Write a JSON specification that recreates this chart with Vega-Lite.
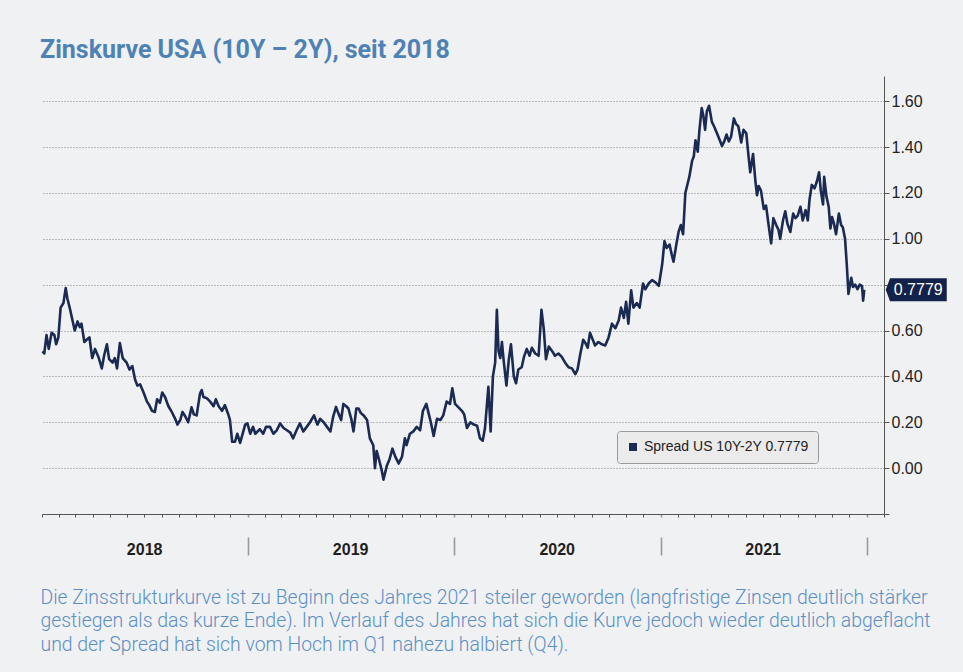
{
"$schema": "https://vega.github.io/schema/vega-lite/v6.json",
"width": 842,
"height": 438,
"autosize": {"type": "none"},
"padding": {"left": 42, "top": 76, "right": 79, "bottom": 158},
"background": "#f0f1f3",
"config": {"view": {"stroke": null}, "font": "Liberation Sans"},
"title": {"text": "Zinskurve USA (10Y – 2Y), seit 2018", "anchor": "start", "frame": "group", "font": "Roboto", "fontSize": 25, "fontWeight": "bold", "color": "#4e81b4", "baseline": "alphabetic", "offset": 19, "dx": -2, "dy": 26},
"datasets": {
"spread": [
{"date":"2018-01-02","value":0.51},{"date":"2018-01-05","value":0.50},{"date":"2018-01-07","value":0.54},{"date":"2018-01-09","value":0.58},{"date":"2018-01-13","value":0.52},{"date":"2018-01-18","value":0.59},{"date":"2018-01-23","value":0.58},{"date":"2018-01-26","value":0.54},{"date":"2018-01-30","value":0.57},{"date":"2018-02-03","value":0.70},{"date":"2018-02-08","value":0.72},{"date":"2018-02-12","value":0.785},{"date":"2018-02-15","value":0.74},{"date":"2018-02-20","value":0.69},{"date":"2018-02-24","value":0.645},{"date":"2018-02-28","value":0.60},{"date":"2018-03-05","value":0.64},{"date":"2018-03-09","value":0.615},{"date":"2018-03-12","value":0.63},{"date":"2018-03-17","value":0.55},{"date":"2018-03-21","value":0.56},{"date":"2018-03-26","value":0.57},{"date":"2018-03-31","value":0.48},{"date":"2018-04-05","value":0.52},{"date":"2018-04-11","value":0.485},{"date":"2018-04-17","value":0.435},{"date":"2018-04-21","value":0.49},{"date":"2018-04-26","value":0.54},{"date":"2018-04-30","value":0.475},{"date":"2018-05-06","value":0.46},{"date":"2018-05-10","value":0.48},{"date":"2018-05-14","value":0.435},{"date":"2018-05-19","value":0.545},{"date":"2018-05-24","value":0.48},{"date":"2018-05-31","value":0.46},{"date":"2018-06-05","value":0.43},{"date":"2018-06-10","value":0.445},{"date":"2018-06-15","value":0.385},{"date":"2018-06-19","value":0.36},{"date":"2018-06-24","value":0.365},{"date":"2018-06-30","value":0.33},{"date":"2018-07-06","value":0.29},{"date":"2018-07-10","value":0.275},{"date":"2018-07-15","value":0.25},{"date":"2018-07-20","value":0.245},{"date":"2018-07-24","value":0.30},{"date":"2018-07-29","value":0.285},{"date":"2018-08-02","value":0.33},{"date":"2018-08-07","value":0.31},{"date":"2018-08-13","value":0.27},{"date":"2018-08-19","value":0.245},{"date":"2018-08-25","value":0.215},{"date":"2018-08-29","value":0.19},{"date":"2018-09-03","value":0.21},{"date":"2018-09-07","value":0.245},{"date":"2018-09-12","value":0.225},{"date":"2018-09-17","value":0.20},{"date":"2018-09-23","value":0.265},{"date":"2018-09-27","value":0.235},{"date":"2018-10-02","value":0.23},{"date":"2018-10-08","value":0.325},{"date":"2018-10-11","value":0.34},{"date":"2018-10-14","value":0.31},{"date":"2018-10-20","value":0.305},{"date":"2018-10-26","value":0.29},{"date":"2018-11-01","value":0.27},{"date":"2018-11-05","value":0.30},{"date":"2018-11-10","value":0.27},{"date":"2018-11-16","value":0.25},{"date":"2018-11-21","value":0.275},{"date":"2018-11-27","value":0.235},{"date":"2018-11-30","value":0.21},{"date":"2018-12-04","value":0.115},{"date":"2018-12-09","value":0.115},{"date":"2018-12-13","value":0.15},{"date":"2018-12-18","value":0.11},{"date":"2018-12-22","value":0.145},{"date":"2018-12-27","value":0.19},{"date":"2018-12-31","value":0.195},
{"date":"2019-01-05","value":0.15},{"date":"2019-01-10","value":0.18},{"date":"2019-01-14","value":0.15},{"date":"2019-01-22","value":0.17},{"date":"2019-01-28","value":0.15},{"date":"2019-02-02","value":0.18},{"date":"2019-02-09","value":0.18},{"date":"2019-02-15","value":0.15},{"date":"2019-02-21","value":0.165},{"date":"2019-02-27","value":0.195},{"date":"2019-03-05","value":0.175},{"date":"2019-03-11","value":0.165},{"date":"2019-03-17","value":0.155},{"date":"2019-03-22","value":0.13},{"date":"2019-03-28","value":0.165},{"date":"2019-04-03","value":0.195},{"date":"2019-04-09","value":0.16},{"date":"2019-04-15","value":0.18},{"date":"2019-04-21","value":0.20},{"date":"2019-04-28","value":0.23},{"date":"2019-05-04","value":0.19},{"date":"2019-05-09","value":0.215},{"date":"2019-05-15","value":0.20},{"date":"2019-05-21","value":0.18},{"date":"2019-05-27","value":0.16},{"date":"2019-06-01","value":0.225},{"date":"2019-06-06","value":0.267},{"date":"2019-06-10","value":0.24},{"date":"2019-06-15","value":0.21},{"date":"2019-06-19","value":0.28},{"date":"2019-06-24","value":0.27},{"date":"2019-06-28","value":0.26},{"date":"2019-07-03","value":0.215},{"date":"2019-07-07","value":0.16},{"date":"2019-07-12","value":0.26},{"date":"2019-07-16","value":0.26},{"date":"2019-07-20","value":0.24},{"date":"2019-07-25","value":0.23},{"date":"2019-07-31","value":0.21},{"date":"2019-08-05","value":0.13},{"date":"2019-08-11","value":0.10},{"date":"2019-08-14","value":0.0},{"date":"2019-08-17","value":0.075},{"date":"2019-08-22","value":0.03},{"date":"2019-08-26","value":-0.01},{"date":"2019-08-29","value":-0.05},{"date":"2019-09-04","value":0.01},{"date":"2019-09-09","value":0.04},{"date":"2019-09-14","value":0.085},{"date":"2019-09-19","value":0.05},{"date":"2019-09-25","value":0.02},{"date":"2019-10-01","value":0.05},{"date":"2019-10-06","value":0.13},{"date":"2019-10-09","value":0.10},{"date":"2019-10-15","value":0.15},{"date":"2019-10-21","value":0.16},{"date":"2019-10-27","value":0.18},{"date":"2019-11-02","value":0.165},{"date":"2019-11-07","value":0.25},{"date":"2019-11-13","value":0.28},{"date":"2019-11-17","value":0.24},{"date":"2019-11-21","value":0.20},{"date":"2019-11-26","value":0.14},{"date":"2019-12-02","value":0.215},{"date":"2019-12-08","value":0.21},{"date":"2019-12-13","value":0.23},{"date":"2019-12-19","value":0.29},{"date":"2019-12-25","value":0.28},{"date":"2019-12-29","value":0.348},
{"date":"2020-01-03","value":0.28},{"date":"2020-01-09","value":0.265},{"date":"2020-01-15","value":0.25},{"date":"2020-01-19","value":0.235},{"date":"2020-01-24","value":0.175},{"date":"2020-01-30","value":0.20},{"date":"2020-02-05","value":0.19},{"date":"2020-02-11","value":0.185},{"date":"2020-02-16","value":0.13},{"date":"2020-02-21","value":0.12},{"date":"2020-02-25","value":0.175},{"date":"2020-03-02","value":0.355},{"date":"2020-03-06","value":0.16},{"date":"2020-03-10","value":0.40},{"date":"2020-03-14","value":0.46},{"date":"2020-03-17","value":0.69},{"date":"2020-03-20","value":0.51},{"date":"2020-03-23","value":0.48},{"date":"2020-03-26","value":0.55},{"date":"2020-03-29","value":0.47},{"date":"2020-04-03","value":0.36},{"date":"2020-04-07","value":0.47},{"date":"2020-04-11","value":0.54},{"date":"2020-04-16","value":0.40},{"date":"2020-04-20","value":0.37},{"date":"2020-04-24","value":0.43},{"date":"2020-04-30","value":0.44},{"date":"2020-05-04","value":0.485},{"date":"2020-05-09","value":0.52},{"date":"2020-05-14","value":0.49},{"date":"2020-05-18","value":0.525},{"date":"2020-05-24","value":0.50},{"date":"2020-05-30","value":0.49},{"date":"2020-06-04","value":0.69},{"date":"2020-06-08","value":0.61},{"date":"2020-06-12","value":0.475},{"date":"2020-06-17","value":0.53},{"date":"2020-06-23","value":0.51},{"date":"2020-06-28","value":0.49},{"date":"2020-07-04","value":0.50},{"date":"2020-07-10","value":0.485},{"date":"2020-07-16","value":0.46},{"date":"2020-07-22","value":0.44},{"date":"2020-07-28","value":0.435},{"date":"2020-08-03","value":0.41},{"date":"2020-08-07","value":0.43},{"date":"2020-08-12","value":0.50},{"date":"2020-08-17","value":0.56},{"date":"2020-08-21","value":0.545},{"date":"2020-08-25","value":0.525},{"date":"2020-08-29","value":0.59},{"date":"2020-09-03","value":0.56},{"date":"2020-09-07","value":0.535},{"date":"2020-09-13","value":0.55},{"date":"2020-09-19","value":0.54},{"date":"2020-09-25","value":0.535},{"date":"2020-10-01","value":0.57},{"date":"2020-10-07","value":0.63},{"date":"2020-10-13","value":0.61},{"date":"2020-10-19","value":0.645},{"date":"2020-10-23","value":0.70},{"date":"2020-10-28","value":0.655},{"date":"2020-11-01","value":0.725},{"date":"2020-11-05","value":0.63},{"date":"2020-11-10","value":0.775},{"date":"2020-11-14","value":0.70},{"date":"2020-11-20","value":0.72},{"date":"2020-11-25","value":0.70},{"date":"2020-12-01","value":0.805},{"date":"2020-12-05","value":0.78},{"date":"2020-12-11","value":0.805},{"date":"2020-12-17","value":0.82},{"date":"2020-12-23","value":0.81},{"date":"2020-12-29","value":0.795},
{"date":"2021-01-04","value":0.89},{"date":"2021-01-08","value":0.99},{"date":"2021-01-12","value":0.96},{"date":"2021-01-17","value":0.975},{"date":"2021-01-21","value":0.93},{"date":"2021-01-24","value":0.90},{"date":"2021-01-29","value":0.975},{"date":"2021-02-02","value":1.03},{"date":"2021-02-06","value":1.06},{"date":"2021-02-10","value":1.02},{"date":"2021-02-14","value":1.20},{"date":"2021-02-18","value":1.24},{"date":"2021-02-21","value":1.27},{"date":"2021-02-26","value":1.34},{"date":"2021-03-01","value":1.36},{"date":"2021-03-04","value":1.43},{"date":"2021-03-08","value":1.38},{"date":"2021-03-11","value":1.475},{"date":"2021-03-15","value":1.57},{"date":"2021-03-18","value":1.535},{"date":"2021-03-21","value":1.475},{"date":"2021-03-24","value":1.555},{"date":"2021-03-28","value":1.58},{"date":"2021-04-02","value":1.51},{"date":"2021-04-06","value":1.49},{"date":"2021-04-11","value":1.46},{"date":"2021-04-16","value":1.43},{"date":"2021-04-20","value":1.405},{"date":"2021-04-24","value":1.425},{"date":"2021-04-28","value":1.455},{"date":"2021-05-02","value":1.425},{"date":"2021-05-06","value":1.445},{"date":"2021-05-11","value":1.525},{"date":"2021-05-15","value":1.50},{"date":"2021-05-19","value":1.49},{"date":"2021-05-24","value":1.42},{"date":"2021-05-28","value":1.475},{"date":"2021-06-02","value":1.46},{"date":"2021-06-06","value":1.36},{"date":"2021-06-09","value":1.29},{"date":"2021-06-14","value":1.37},{"date":"2021-06-18","value":1.255},{"date":"2021-06-21","value":1.19},{"date":"2021-06-24","value":1.23},{"date":"2021-06-28","value":1.21},{"date":"2021-07-03","value":1.13},{"date":"2021-07-07","value":1.145},{"date":"2021-07-11","value":1.07},{"date":"2021-07-16","value":0.98},{"date":"2021-07-20","value":1.09},{"date":"2021-07-25","value":1.06},{"date":"2021-07-29","value":1.04},{"date":"2021-08-01","value":1.0},{"date":"2021-08-06","value":1.08},{"date":"2021-08-10","value":1.12},{"date":"2021-08-14","value":1.065},{"date":"2021-08-19","value":1.03},{"date":"2021-08-24","value":1.11},{"date":"2021-08-28","value":1.09},{"date":"2021-09-01","value":1.10},{"date":"2021-09-06","value":1.14},{"date":"2021-09-10","value":1.08},{"date":"2021-09-15","value":1.125},{"date":"2021-09-19","value":1.08},{"date":"2021-09-22","value":1.17},{"date":"2021-09-26","value":1.235},{"date":"2021-10-01","value":1.22},{"date":"2021-10-05","value":1.25},{"date":"2021-10-09","value":1.29},{"date":"2021-10-12","value":1.21},{"date":"2021-10-16","value":1.15},{"date":"2021-10-18","value":1.27},{"date":"2021-10-22","value":1.185},{"date":"2021-10-26","value":1.14},{"date":"2021-10-29","value":1.045},{"date":"2021-11-01","value":1.095},{"date":"2021-11-04","value":1.07},{"date":"2021-11-08","value":1.02},{"date":"2021-11-13","value":1.11},{"date":"2021-11-17","value":1.06},{"date":"2021-11-20","value":1.05},{"date":"2021-11-24","value":1.0},{"date":"2021-11-27","value":0.89},{"date":"2021-11-30","value":0.76},{"date":"2021-12-05","value":0.83},{"date":"2021-12-08","value":0.79},{"date":"2021-12-12","value":0.80},{"date":"2021-12-16","value":0.78},{"date":"2021-12-20","value":0.80},{"date":"2021-12-24","value":0.795},{"date":"2021-12-26","value":0.73},{"date":"2021-12-28","value":0.7779}
],
"last": [{"date":"2021-12-28","value":0.7779,"label":"0.7779"}]
},
"layer": [
{
"data": {"name": "spread"},
"mark": {"type": "line", "strokeWidth": 2.6, "strokeJoin": "round"},
"encoding": {
"x": {"field": "date", "type": "temporal",
 "scale": {"type": "utc", "domain": [{"year": 2018, "month": 1, "date": 1, "utc": true}, {"year": 2022, "month": 2, "date": 1, "utc": true}]},
 "axis": {
  "orient": "bottom",
  "grid": false,
  "domainColor": "#555555", "domainWidth": 1,
  "tickCount": {"interval": "month", "step": 1},
  "tickSize": 41,
  "tickColor": {"condition": {"test": "utcmonth(datum.value) == 0 && utcyear(datum.value) > 2018", "value": "#9a9a9a"}, "value": "#555555"},
  "tickWidth": {"condition": {"test": "utcmonth(datum.value) == 0 && utcyear(datum.value) > 2018", "value": 1.6}, "value": 1},
  "tickDash": {"condition": {"test": "utcmonth(datum.value) == 0 && utcyear(datum.value) > 2018", "value": [3, 20, 18, 100]}, "value": [3, 100]},
  "labelExpr": "utcmonth(datum.value) == 6 ? '' + utcyear(datum.value) : ''",
  "labelOverlap": false, "labelFlush": false, "labelBound": false,
  "labelFont": "Liberation Sans", "labelFontSize": 16, "labelFontWeight": "bold", "labelColor": "#1e1e1e",
  "labelBaseline": "middle", "labelAlign": "center", "labelPadding": -6,
  "title": ["Die Zinsstrukturkurve ist zu Beginn des Jahres 2021 steiler geworden (langfristige Zinsen deutlich stärker", "gestiegen als das kurze Ende). Im Verlauf des Jahres hat sich die Kurve jedoch wieder deutlich abgeflacht", "und der Spread hat sich vom Hoch im Q1 nahezu halbiert (Q4)."],
  "titleX": -2, "titleY": 89, "titleAnchor": "start", "titleAlign": "left", "titleBaseline": "alphabetic",
  "titleFont": "Roboto", "titleFontSize": 19.4, "titleFontWeight": 300, "titleColor": "#5b8fc4", "titleLineHeight": 23.7
 }},
"y": {"field": "value", "type": "quantitative",
 "scale": {"domain": [-0.2, 1.71], "nice": false, "zero": false},
 "axis": {
  "orient": "right",
  "title": null,
  "values": [-0.2, -0.1, 0, 0.1, 0.2, 0.3, 0.4, 0.5, 0.6, 0.7, 0.8, 0.9, 1.0, 1.1, 1.2, 1.3, 1.4, 1.5, 1.6, 1.7],
  "domainColor": "#555555",
  "tickColor": "#555555", "tickSize": 5,
  "labelExpr": "datum.value > -0.05 && datum.value < 1.65 && abs(datum.value - 0.8) > 0.05 && round(datum.value * 10) % 2 == 0 ? format(datum.value, '.2f') : ''",
  "labelFont": "Liberation Sans", "labelFontSize": 16, "labelColor": "#222222", "labelPadding": 2,
  "labelOverlap": false, "labelBound": false, "labelFlush": false,
  "grid": true, "gridColor": "#808080", "gridDash": [1, 2], "gridWidth": 1,
  "gridOpacity": {"condition": {"test": "datum.value > -0.05 && datum.value < 1.65 && round(datum.value * 10) % 2 == 0", "value": 1}, "value": 0}
 }},
"color": {"datum": "Spread US 10Y-2Y 0.7779", "type": "nominal",
 "scale": {"range": ["#1b2a52"]},
 "legend": {"title": null, "orient": "none", "legendX": 575, "legendY": 355, "padding": 9,
  "fillColor": "#ebebec", "strokeColor": "#999999", "cornerRadius": 3,
  "symbolType": "square", "symbolSize": 64, "symbolFillColor": "#1b2a52", "symbolStrokeWidth": 0,
  "labelFont": "Liberation Sans", "labelFontSize": 14, "labelColor": "#222222", "labelOffset": 4, "labelLimit": 300,
  "encode": {"symbols": {"update": {"fill": {"value": "#1b2a52"}, "strokeWidth": {"value": 0}}}}}}
}
},
{
"data": {"name": "last"},
"mark": {"type": "point", "filled": true, "shape": "M-1,0L-0.86,-0.377L1,-0.377L1,0.377L-0.86,0.377Z", "size": 3721, "xOffset": 52, "color": "#13224a", "opacity": 1, "strokeWidth": 0},
"encoding": {
"x": {"field": "date", "type": "temporal"},
"y": {"field": "value", "type": "quantitative"}
}
},
{
"data": {"name": "last"},
"mark": {"type": "text", "dx": 54, "align": "center", "baseline": "middle", "color": "#ffffff", "font": "Liberation Sans", "fontSize": 16},
"encoding": {
"x": {"field": "date", "type": "temporal"},
"y": {"field": "value", "type": "quantitative"},
"text": {"field": "label"}
}
}
]
}
